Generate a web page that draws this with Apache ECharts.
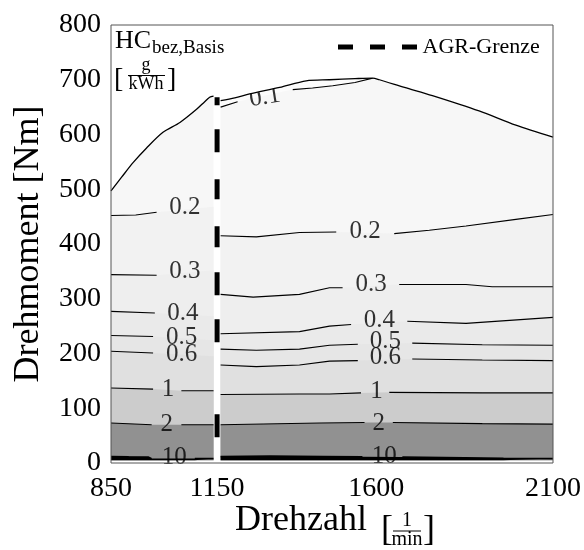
<!DOCTYPE html>
<html><head><meta charset="utf-8">
<script src="https://cdn.jsdelivr.net/npm/echarts@6/dist/echarts.min.js"></script>
<style>html,body{margin:0;padding:0;background:#fff}#c{width:584px;height:550px}</style>
</head><body><div id="c"></div>
<script>
// ---- data ----
const xTickLabels = [850, 1150, 1600, 2100];
const yTickLabels = [0, 100, 200, 300, 400, 500, 600, 700, 800];
// full-load curves (left / right of AGR limit)
const fullL = [[850,497],[880,522],[913,549],[950,575],[997,604],[1045,622],[1092,646],[1115,660],[1129,668],[1140,670]];
const fullR = [[1160,662],[1200,667],[1242,674],[1327,686],[1402,698],[1468,700],[1540,702],[1590,703],[1609,700],[1680,686],[1759,671],[1891,643],[1995,617],[2100,595]];
// contour lines (null = gap for the inline label)
const c01R = [[1160,650],[1208,660],null,[1364,682],[1420,685],[1477,689],[1540,695],[1590,703]];
const c02L = [[850,452],[920,453],[979,458],null,[1140,468]];
const c02R = [[1160,415],[1261,413],[1383,421],[1487,422],null,[1651,419],[1750,425],[1854,433],[1995,445],[2100,454]];
const c03L = [[850,344],[979,343],null,[1140,352]];
const c03R = [[1160,308],[1252,303],[1383,308],[1468,320],[1505,320],null,[1665,326],[1854,326],[1928,322],[2100,322]];
const c04L = [[850,277],[974,274],null,[1140,268]];
const c04R = [[1160,236],[1383,240],[1468,250],[1529,253],null,[1688,259],[1854,255],[2100,266]];
const c05L = [[850,233],[969,231],null,[1140,224]];
const c05R = [[1160,208],[1261,206],[1383,208],[1468,215],[1548,217],null,[1702,219],[1900,216],[2100,215]];
const c06L = [[850,204],[969,201],null,[1140,195]];
const c06R = [[1160,179],[1261,176],[1383,179],[1468,186],[1548,187],null,[1702,190],[1900,188],[2100,187]];
const c1L = [[850,137],[969,135],null,[1049,132],[1140,132]];
const c1R = [[1160,125],[1383,126],[1468,126],[1557,128],null,[1637,129],[1900,128],[2100,128]];
const c2L = [[850,73],[965,70],null,[1049,70],[1140,70]];
const c2R = [[1160,70],[1440,73],[1567,74],null,[1647,74],[1900,72],[2100,71]];
const c10L = [[850,12],[900,11.5],[955,11],[965,8],null,[1087,8],[1140,8]];
const c10R = [[1160,12],[1300,12.5],[1450,12],[1561,11.5],null,[1674,11],[1850,9.5],[1960,8.5],[2100,8]];
// contour labels [x, y, text]
const contourLabels = [
  [1285,668,'0.1'],
  [1059,466,'0.2'],[1569,423,'0.2'],
  [1059,350,'0.3'],[1586,326,'0.3'],
  [1053,273,'0.4'],[1609,261,'0.4'],
  [1050,230,'0.5'],[1626,222,'0.5'],
  [1050,199,'0.6'],[1626,192,'0.6'],
  [1011,135,'1'],[1601,130,'1'],
  [1008,70,'2'],[1607,72,'2'],
  [1029,11,'10'],[1623,12,'10']
];
// AGR limit line
const agrLine = [[1150,668],[1150,0]];

// ---- styles ----
const FONT = 'Liberation Serif';
const colors = {above:'#fcfcfc', c01:'#f7f7f7', c02:'#f2f2f2', c03:'#eeeeee', c04:'#eaeaea', c05:'#e6e6e6', c06:'#e0e0e0', c1:'#cccccc', c2:'#919191', c10:'#000000'};

const brk = a => a.map(p => p ? p : ['-','-']);
const solid = a => a.filter(p => p);
const series = [];
function fill(data, color, smooth){
  series.push({type:'line', data: solid(data), symbol:'none', silent:true, z:1, animation:false, smooth: smooth || false,
    lineStyle:{width:0}, areaStyle:{color, opacity:1, origin:5}});
}
function cline(data){
  series.push({type:'line', data: brk(data), symbol:'none', silent:true, z:2, animation:false,
    connectNulls:false, lineStyle:{color:'#000', width:1.1}});
}
// left fills
fill(fullL, colors.c01, 0.3);
fill(c02L, colors.c02); fill(c03L, colors.c03); fill(c04L, colors.c04);
fill(c05L, colors.c05); fill(c06L, colors.c06); fill(c1L, colors.c1);
fill(c2L, colors.c2); fill(c10L, colors.c10);
// right fills
fill(fullR, colors.above, 0.3);
const lastX01 = solid(c01R).slice(-1)[0][0];
fill(solid(c01R).concat(fullR.filter(p => p[0] > lastX01)), colors.c01);
fill(c02R, colors.c02); fill(c03R, colors.c03); fill(c04R, colors.c04);
fill(c05R, colors.c05); fill(c06R, colors.c06); fill(c1R, colors.c1);
fill(c2R, colors.c2); fill(c10R, colors.c10);
// contour lines
[c01R,c02L,c02R,c03L,c03R,c04L,c04R,c05L,c05R,c06L,c06R,c1L,c1R,c2L,c2R].forEach(cline);
[c10L,c10R].forEach(d => series.push({type:'line', data: brk(d), symbol:'none', silent:true, z:2, animation:false,
    lineStyle:{color:'#000', width:1.6}}));
// labels
series.push({type:'scatter', z:3, silent:true, animation:false, symbolSize:1,
  itemStyle:{color:'rgba(0,0,0,0)'},
  data: contourLabels.map(l => ({value:[l[0], l[1]], name:l[2], label:{rotate: l[2]==='0.1' ? 9 : 0}})),
  label:{show:true, position:'inside', formatter: p => p.name, fontFamily:FONT, fontSize:25, color:'#000'}
});
// full-load lines with white mask above
[fullL, fullR].forEach(d => series.push({type:'line', data:d, symbol:'none', silent:true, z:4, animation:false, smooth:0.3,
  lineStyle:{color:'#000', width:1.3}, areaStyle:{color:'#fff', opacity:1, origin:'end'}}));
// AGR line
series.push({name:'AGR-Grenze', type:'line', data: agrLine, symbol:'none', z:5, animation:false,
  lineStyle:{color:'#000', width:5, cap:'butt', type:[8,24,23,27,20,27,21,25,23,24,23,72,23,40]}});

const chart = echarts.init(document.getElementById('c'), null, {renderer:'canvas'});
chart.setOption({
  animation:false,
  backgroundColor:'#fff',
  grid:{left:111, right:30, top:25, bottom:87, show:true, borderColor:'#555', borderWidth:1, backgroundColor:'rgba(0,0,0,0)', z:10},
  xAxis:{type:'value', min:850, max:2100, interval:50,
    axisLine:{show:false}, axisTick:{show:false}, splitLine:{show:false},
    axisLabel:{fontFamily:FONT, fontSize:28, color:'#000', margin:12,
      formatter: v => xTickLabels.indexOf(v) >= 0 ? String(v) : ''}},
  yAxis:{type:'value', min:0, max:800, interval:100,
    axisLine:{show:false}, axisTick:{show:false}, splitLine:{show:false},
    axisLabel:{fontFamily:FONT, fontSize:28, color:'#000', margin:10,
      formatter: v => yTickLabels.indexOf(v) >= 0 ? String(v) : ''},
    name:'Drehmoment [Nm]', nameLocation:'middle', nameRotate:90, nameGap:64,
    nameTextStyle:{fontFamily:FONT, fontSize:36, color:'#000'}},
  legend:{data:['AGR-Grenze'], left:333, top:31, itemWidth:80, itemHeight:5, z:20,
    icon:'path://M0,0h15v5h-15z M32,0h15v5h-15z M64,0h15v5h-15z',
    itemStyle:{color:'#000'},
    textStyle:{fontFamily:FONT, fontSize:22, color:'#000'}},
  graphic:{elements:[
    {type:'text', x:115, y:41, z:100, style:{text:'HC', fontFamily:FONT, fontSize:26, fill:'#000', verticalAlign:'middle'}},
    {type:'text', x:152, y:48, z:100, style:{text:'bez,Basis', fontFamily:FONT, fontSize:19, fill:'#000', verticalAlign:'middle'}},
    {type:'text', x:114, y:80, z:100, style:{text:'[', fontFamily:FONT, fontSize:28, fill:'#000', verticalAlign:'middle'}},
    {type:'text', x:146, y:65, z:100, style:{text:'g', fontFamily:FONT, fontSize:18, fill:'#000', align:'center', verticalAlign:'middle'}},
    {type:'line', z:100, shape:{x1:128, y1:75.5, x2:165, y2:75.5}, style:{stroke:'#000', lineWidth:1}},
    {type:'text', x:146, y:84, z:100, style:{text:'kWh', fontFamily:FONT, fontSize:18, fill:'#000', align:'center', verticalAlign:'middle'}},
    {type:'text', x:167, y:80, z:100, style:{text:']', fontFamily:FONT, fontSize:28, fill:'#000', verticalAlign:'middle'}},
    {type:'text', x:235, y:521, z:100, style:{text:'Drehzahl', fontFamily:FONT, fontSize:36, fill:'#000', verticalAlign:'middle'}},
    {type:'text', x:381, y:531, z:100, style:{text:'[', fontFamily:FONT, fontSize:36, fill:'#000', verticalAlign:'middle'}},
    {type:'text', x:407, y:521, z:100, style:{text:'1', fontFamily:FONT, fontSize:20, fill:'#000', align:'center', verticalAlign:'middle'}},
    {type:'line', z:100, shape:{x1:393, y1:531, x2:421, y2:531}, style:{stroke:'#000', lineWidth:1}},
    {type:'text', x:407, y:540, z:100, style:{text:'min', fontFamily:FONT, fontSize:20, fill:'#000', align:'center', verticalAlign:'middle'}},
    {type:'text', x:423, y:531, z:100, style:{text:']', fontFamily:FONT, fontSize:36, fill:'#000', verticalAlign:'middle'}}
  ]},
  series
});
</script></body></html>
